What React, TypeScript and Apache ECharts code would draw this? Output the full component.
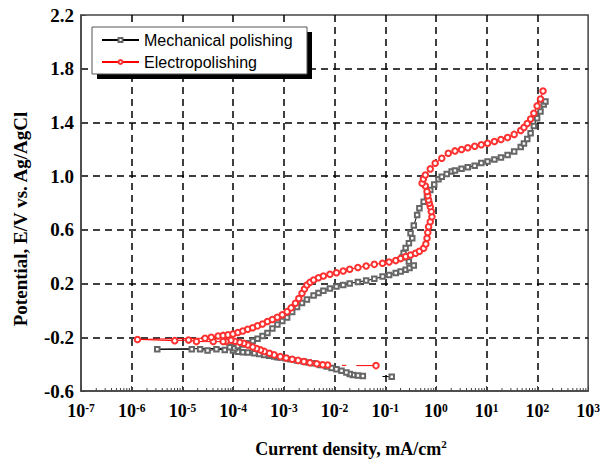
import React, { useEffect, useRef } from 'react';
import * as echarts from 'echarts';

// Current density (mA/cm2), potential (V vs Ag/AgCl). null = gap in the recorded trace.
const mechCathodic: ([number, number] | null)[] = [
  [0.134, -0.493], [8.8e-2, -0.492], null,
  [3.61e-2, -0.488], [2.89e-2, -0.484], [2.31e-2, -0.48], [1.99e-2, -0.473],
  [1.71e-2, -0.463], [1.37e-2, -0.45], [1.09e-2, -0.438], [8.75e-3, -0.428], [6.98e-3, -0.418],
  [5.18e-3, -0.406], [3.86e-3, -0.393], [3.08e-3, -0.387], [2.46e-3, -0.381], [1.82e-3, -0.372],
  [1.35e-3, -0.363], [1.08e-3, -0.357], [8.57e-4, -0.351], [7.45e-4, -0.348], [6.41e-4, -0.344],
  [5.13e-4, -0.337], [4.1e-4, -0.331], [3.28e-4, -0.324], [2.62e-4, -0.319], [1.94e-4, -0.314],
  [1.55e-4, -0.311], [1.24e-4, -0.307], [9.91e-5, -0.298], [8.55e-5, -0.274], [6.84e-5, -0.294],
  [4.69e-5, -0.289], [3.13e-5, -0.299], [2.23e-5, -0.289], null, [1.53e-5, -0.289], [3.19e-6, -0.289],
];
const mechAnodic: [number, number][] = [
  [1.07e-4, -0.281], [1.24e-4, -0.264], [1.55e-4, -0.253], [1.94e-4, -0.244], [2.43e-4, -0.227],
  [3.03e-4, -0.211], [3.8e-4, -0.19], [4.75e-4, -0.168], [5.94e-4, -0.134], [7.45e-4, -0.104],
  [9.31e-4, -0.078], [1.16e-3, -0.052], [1.46e-3, -0.011], [1.82e-3, 0.026], [2.28e-3, 0.056],
  [2.85e-3, 0.082], [3.86e-3, 0.112], [4.82e-3, 0.13], [6.03e-3, 0.147], [8.11e-3, 0.164],
  [1.09e-2, 0.179], [1.48e-2, 0.19], [1.99e-2, 0.201], [2.89e-2, 0.212], [4.2e-2, 0.222],
  [6.08e-2, 0.235], [8.85e-2, 0.252], [0.119, 0.264], [0.161, 0.279], [0.201, 0.29],
  [0.252, 0.303], [0.301, 0.316], [0.365, 0.335], [0.292, 0.365], [0.217, 0.395],
  [0.23, 0.428], [0.252, 0.465], [0.292, 0.5], [0.34, 0.538], [0.315, 0.575],
  [0.365, 0.633], [0.425, 0.711], [0.471, 0.76], [0.571, 0.81], [0.665, 0.853],
  [0.771, 0.897], [0.923, 0.938], [1.12, 0.977], [1.3, 0.996], [1.63, 1.016],
  [2.04, 1.035], [2.37, 1.042], [3.19, 1.055], [4.23, 1.066], [5.79, 1.078],
  [7.82, 1.098], [10.4, 1.109], [14.2, 1.124], [19.1, 1.139], [25.8, 1.158],
  [34.8, 1.184], [46.9, 1.217], [54.3, 1.243], [63.1, 1.277], [73.4, 1.319],
  [85.1, 1.374], [98.6, 1.431], [115, 1.482], [133, 1.534], [144, 1.555],
];
const epCathodic: ([number, number] | null)[] = [
  [6.56e-2, -0.411], [2.68e-2, -0.411], null, [1.7e-2, -0.409], [1.4e-2, -0.409], null,
  [7.31e-3, -0.406], [5.85e-3, -0.404], [4.47e-3, -0.397], [3.27e-3, -0.389],
  [2.48e-3, -0.381], [1.91e-3, -0.372], [1.46e-3, -0.363], [1.11e-3, -0.354], [8.51e-4, -0.344],
  [6.45e-4, -0.331], [5.2e-4, -0.319], [4.13e-4, -0.305], [3.48e-4, -0.294], [2.9e-4, -0.284],
  [2.43e-4, -0.272], [1.94e-4, -0.257], [1.62e-4, -0.245], [1.35e-4, -0.237], [1.08e-4, -0.229],
  [9.06e-5, -0.222], [7.24e-5, -0.232], [6.34e-5, -0.232], [4.05e-5, -0.232], [1.89e-5, -0.232],
  [1.32e-5, -0.22], [7.05e-6, -0.225], [1.3e-6, -0.216],
];
const epAnodic: [number, number][] = [
  [2.79e-5, -0.207], [3.7e-5, -0.2], [5.06e-5, -0.19], [6.34e-5, -0.186], [7.93e-5, -0.182],
  [9.91e-5, -0.175], [1.24e-4, -0.165], [1.55e-4, -0.153], [1.94e-4, -0.14], [2.43e-4, -0.129],
  [3.03e-4, -0.115], [3.8e-4, -0.101], [4.75e-4, -0.083], [5.94e-4, -0.067], [7.45e-4, -0.051],
  [9.31e-4, -0.032], [1.16e-3, -0.009], [1.39e-3, 0.019], [1.69e-3, 0.054], [1.97e-3, 0.089],
  [2.28e-3, 0.128], [2.55e-3, 0.16], [2.85e-3, 0.19], [3.29e-3, 0.21], [3.86e-3, 0.227],
  [4.82e-3, 0.243], [6.03e-3, 0.257], [8.11e-3, 0.27], [1.09e-2, 0.281], [1.48e-2, 0.294],
  [1.99e-2, 0.307], [2.89e-2, 0.32], [4.2e-2, 0.331], [6.08e-2, 0.343], [8.85e-2, 0.351],
  [0.119, 0.361], [0.161, 0.371], [0.201, 0.386], [0.252, 0.401], [0.315, 0.413],
  [0.394, 0.426], [0.471, 0.441], [0.571, 0.463], [0.631, 0.495], [0.665, 0.538],
  [0.689, 0.581], [0.714, 0.624], [0.771, 0.661], [0.832, 0.698], [0.807, 0.736],
  [0.771, 0.773], [0.738, 0.798], [0.714, 0.823], [0.689, 0.854], [0.665, 0.885],
  [0.617, 0.927], [0.532, 0.947], [0.564, 0.979], [0.617, 1.009], [0.771, 1.054],
  [0.964, 1.096], [1.3, 1.133], [1.75, 1.171], [2.37, 1.188], [3.19, 1.199],
  [4.23, 1.211], [5.79, 1.223], [7.82, 1.234], [10.4, 1.245], [14.2, 1.258],
  [19.1, 1.273], [25.8, 1.288], [34.8, 1.311], [46.9, 1.34], [54.3, 1.363],
  [63.1, 1.392], [73.4, 1.426], [85.1, 1.468], [98.6, 1.523], [115, 1.575], [129, 1.634],
];
// points that are only line ends (no marker drawn in the original)
const lineOnlyCurrents = [8.8e-2, 2.68e-2, 1.7e-2, 1.4e-2];

const seriesNames = ['Mechanical polishing', 'Electropolishing'];
const xDecadeMin = -7; // 10^-7
const xDecadeMax = 3; // 10^3
const yMin = -0.6;
const yMax = 2.2;
const yStep = 0.4;

const SERIF = "'Liberation Serif', 'Times New Roman', Times, serif";
const SANS = "'Liberation Sans', Arial, Helvetica, sans-serif";

const toLog = (pts: ([number, number] | null)[]) =>
  pts.map((p) => {
    if (!p) return '-';
    const v = [Math.log10(p[0]), p[1]];
    return lineOnlyCurrents.includes(p[0]) ? { value: v, symbol: 'none' } : v;
  });

export default function App() {
  const ref = useRef<HTMLDivElement>(null);
  useEffect(() => {
    if (!ref.current) return;
    const chart = echarts.init(ref.current, undefined, { renderer: 'svg' });

    const minorTicks: number[][] = [];
    for (let e = xDecadeMin; e < xDecadeMax; e++) {
      for (let k = 2; k <= 9; k++) minorTicks.push([e + Math.log10(k), yMin]);
    }

    const gridLine = { show: true, showMinLine: false, showMaxLine: false, lineStyle: { color: '#000', width: 1.5, type: [7, 5] as any } };

    chart.setOption({
      animation: false,
      backgroundColor: '#fff',
      grid: { left: 81, top: 15, width: 514, height: 376, show: true, borderColor: '#444', borderWidth: 1.5, backgroundColor: 'transparent' },
      xAxis: {
        type: 'value',
        min: xDecadeMin,
        max: xDecadeMax,
        interval: 1,
        axisLine: { show: true, onZero: false, lineStyle: { color: '#444', width: 1.5 } },
        axisTick: { show: true, inside: true, length: 5, lineStyle: { color: '#444' } },
        splitLine: gridLine,
        axisLabel: {
          margin: 11,
          showMinLabel: true,
          showMaxLabel: true,
          formatter: (v: number) => `{b|10}{s|${Math.round(v)}}`,
          rich: {
            b: { fontFamily: SERIF, fontWeight: 'bold', fontSize: 18, color: '#000', lineHeight: 18, verticalAlign: 'bottom' },
            s: { fontFamily: SERIF, fontWeight: 'bold', fontSize: 11.5, color: '#000', lineHeight: 11, verticalAlign: 'top' },
          },
        },
      },
      yAxis: {
        type: 'value',
        min: yMin,
        max: yMax,
        interval: yStep,
        axisLine: { show: true, onZero: false, lineStyle: { color: '#444', width: 1.5 } },
        axisTick: { show: true, inside: true, length: 5, lineStyle: { color: '#444' } },
        splitLine: gridLine,
        axisLabel: {
          margin: 7,
          fontFamily: SERIF,
          fontWeight: 'bold',
          fontSize: 19,
          color: '#000',
          formatter: (v: number) => v.toFixed(1),
        },
      },
      legend: {
        data: seriesNames,
        orient: 'vertical',
        left: 101,
        top: 31,
        padding: 0,
        itemWidth: 37,
        itemHeight: 5,
        itemGap: 4,
        z: 20,
        textStyle: { fontFamily: SANS, fontSize: 16, color: '#000', lineHeight: 18 },
      },
      graphic: [
        { type: 'rect', z: 10, shape: { x: 97, y: 32, width: 215, height: 47 }, style: { fill: '#000' } },
        { type: 'rect', z: 11, shape: { x: 92, y: 27, width: 215, height: 47 }, style: { fill: '#fff', stroke: '#555', lineWidth: 1 } },
        {
          type: 'text', x: 20, y: 219, rotation: Math.PI / 2, z: 5,
          style: { text: 'Potential, E/V vs. Ag/AgCl', fontFamily: SERIF, fontWeight: 'bold', fontSize: 19, fill: '#000', align: 'center', verticalAlign: 'middle' },
        },
        {
          type: 'text', x: 351, y: 448, z: 5,
          style: {
            text: '{t|Current density, mA/cm}{s|2}',
            align: 'center', verticalAlign: 'middle',
            rich: {
              t: { fontFamily: SERIF, fontWeight: 'bold', fontSize: 18, fill: '#000', lineHeight: 20, verticalAlign: 'bottom' },
              s: { fontFamily: SERIF, fontWeight: 'bold', fontSize: 11, fill: '#000', lineHeight: 11, verticalAlign: 'top' },
            },
          },
        },
      ],
      series: [
        {
          type: 'custom',
          silent: true,
          z: 3,
          data: minorTicks,
          renderItem: (params: any, api: any) => {
            const p = api.coord([api.value(0), api.value(1)]);
            return { type: 'line', shape: { x1: p[0], y1: p[1], x2: p[0], y2: p[1] - 3 }, style: { stroke: '#444', lineWidth: 1 } };
          },
        },
        {
          name: seriesNames[0],
          type: 'line',
          data: toLog([...mechCathodic, ...mechAnodic]),
          symbol: 'emptyRect',
          symbolSize: 4.5,
          showAllSymbol: true,
          connectNulls: false,
          lineStyle: { color: '#000', width: 1 },
          itemStyle: { color: '#666', borderWidth: 0.9 },
          z: 4,
        },
        {
          name: seriesNames[1],
          type: 'line',
          data: toLog([...epCathodic, ...epAnodic]),
          symbol: 'emptyCircle',
          symbolSize: 5.5,
          showAllSymbol: true,
          connectNulls: false,
          lineStyle: { color: '#ff0000', width: 1 },
          itemStyle: { color: '#ff3030', borderWidth: 0.9 },
          z: 5,
        },
      ],
    });
    return () => chart.dispose();
  }, []);
  return <div ref={ref} style={{ position: 'fixed', left: 0, top: 0, width: 603, height: 463 }} />;
}
